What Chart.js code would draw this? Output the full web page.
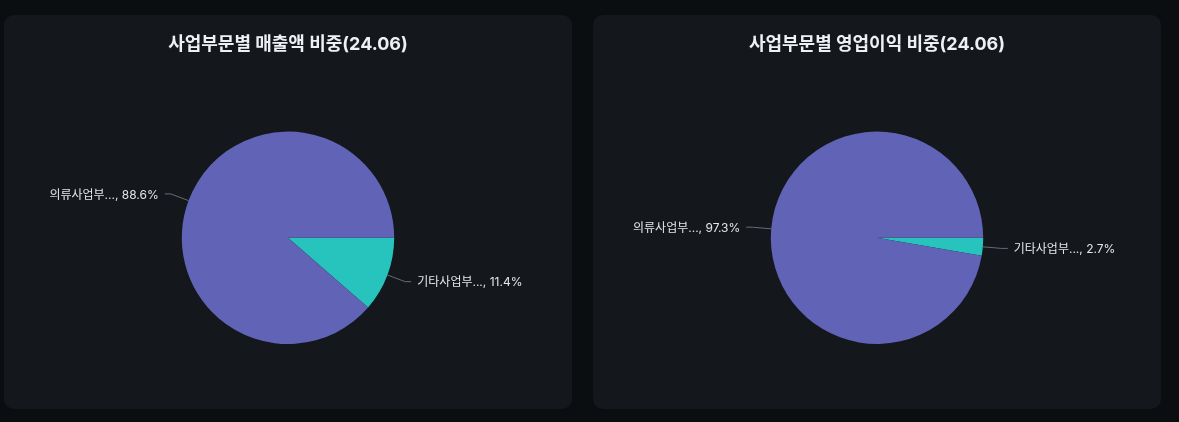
<!DOCTYPE html>
<html>
<head>
<meta charset="utf-8">
<script src="https://cdn.jsdelivr.net/npm/chart.js@4.4.1/dist/chart.umd.min.js"></script>
<style>
  html, body { margin: 0; padding: 0; background: #0b0e11; width: 1179px; height: 422px; overflow: hidden; }
  .panel { position: absolute; top: 15px; width: 568px; height: 394px; background: #14171c; border-radius: 10px; }
  #p1 { left: 4px; }
  #p2 { left: 593px; }
</style>
</head>
<body>
<div class="panel" id="p1"><canvas id="salesChart"></canvas></div>
<div class="panel" id="p2"><canvas id="profitChart"></canvas></div>
<script>
const categories = ['기타사업부...', '의류사업부...'];
const salesShare = [11.4, 88.6];
const profitShare = [2.7, 97.3];
const sliceColors = ['#27c4be', '#6063b6'];

const fontFamily = 'Inter, "Noto Sans CJK KR", "Noto Sans", sans-serif';

// outside labels with leader lines
const outLabels = {
  id: 'outLabels',
  afterDraw(chart) {
    const ctx = chart.ctx;
    const meta = chart.getDatasetMeta(0);
    const vals = chart.data.datasets[0].data;
    meta.data.forEach((arc, i) => {
      const p = arc.getProps(['x', 'y', 'startAngle', 'endAngle', 'outerRadius'], true);
      const mid = (p.startAngle + p.endAngle) / 2;
      const c = Math.cos(mid), s = Math.sin(mid);
      const x0 = p.x + c * p.outerRadius, y0 = p.y + s * p.outerRadius;
      const x1 = p.x + c * (p.outerRadius + 19), y1 = p.y + s * (p.outerRadius + 19);
      const dir = c >= 0 ? 1 : -1;
      const x2 = x1 + dir * 6;
      ctx.save();
      ctx.strokeStyle = '#686b72';
      ctx.lineWidth = 1;
      ctx.beginPath();
      ctx.moveTo(x0, y0);
      ctx.lineTo(x1, y1);
      ctx.lineTo(x2, y1);
      ctx.stroke();
      ctx.fillStyle = '#e4e6ea';
      ctx.font = '12px ' + fontFamily;
      ctx.textBaseline = 'middle';
      ctx.textAlign = dir > 0 ? 'left' : 'right';
      ctx.fillText(chart.data.labels[i] + ', ' + vals[i].toFixed(1) + '%', x2 + dir * 6, y1 + 1);
      ctx.restore();
    });
  }
};

function makePie(id, titleText, values) {
  new Chart(document.getElementById(id), {
    type: 'pie',
    data: {
      labels: categories,
      datasets: [{
        data: values,
        backgroundColor: sliceColors,
        borderWidth: 0
      }]
    },
    options: {
      responsive: true, maintainAspectRatio: false,
      animation: false,
      rotation: 90,
      layout: { padding: { top: 0, bottom: 65, left: 0, right: 0 } },
      plugins: {
        legend: { display: false },
        tooltip: { enabled: false },
        title: {
          display: true,
          text: titleText,
          color: '#eef0f3',
          font: { size: 18, weight: 'bold', family: fontFamily },
          padding: { top: 19, bottom: 76 }
        }
      }
    },
    plugins: [outLabels]
  });
}

makePie('salesChart', '사업부문별 매출액 비중(24.06)', salesShare);
makePie('profitChart', '사업부문별 영업이익 비중(24.06)', profitShare);
</script>
</body>
</html>
